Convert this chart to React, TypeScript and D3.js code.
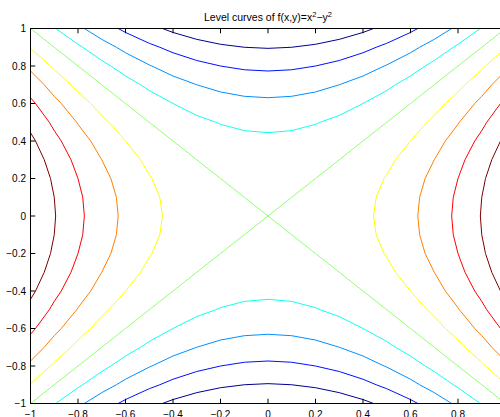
import React from "react";
import * as d3 from "d3";

// Contour levels of f(x,y) = x^2 - y^2 and the jet colours assigned to them
const levels = [-0.8, -0.6, -0.4, -0.2, 0, 0.2, 0.4, 0.6, 0.8];
const levelColors = [
  "#00008f",
  "#0010ff",
  "#0090ff",
  "#10fff0",
  "#90ff70",
  "#ffff00",
  "#ff8000",
  "#ff0000",
  "#800000",
];
// Sample grid: -1:0.1:1 on both axes
const gridX = d3.range(21).map((i) => (i - 10) / 10);
const gridY = d3.range(21).map((i) => (i - 10) / 10);
const f = (x: number, y: number) => x * x - y * y;

const xTicks = [-1, -0.8, -0.6, -0.4, -0.2, 0, 0.2, 0.4, 0.6, 0.8, 1];
const yTicks = [-1, -0.8, -0.6, -0.4, -0.2, 0, 0.2, 0.4, 0.6, 0.8, 1];

const W = 500;
const H = 417;
const left = 30.5;
const right = 505.5;
const top = 28.5;
const bottom = 403.5;

type Pt = [number, number];

// Marching squares: returns polylines (in data coordinates) for one level
function contourLines(t: number): Pt[][] {
  const segs: [Pt, Pt][] = [];
  const z = gridY.map((y) => gridX.map((x) => f(x, y)));
  const interp = (a: Pt, va: number, b: Pt, vb: number): Pt => {
    const s = (t - va) / (vb - va);
    return [a[0] + s * (b[0] - a[0]), a[1] + s * (b[1] - a[1])];
  };
  for (let j = 0; j < gridY.length - 1; j++) {
    for (let i = 0; i < gridX.length - 1; i++) {
      const c: Pt[] = [
        [gridX[i], gridY[j]],
        [gridX[i + 1], gridY[j]],
        [gridX[i + 1], gridY[j + 1]],
        [gridX[i], gridY[j + 1]],
      ];
      const v = [z[j][i], z[j][i + 1], z[j + 1][i + 1], z[j + 1][i]];
      const pts: Pt[] = [];
      for (let k = 0; k < 4; k++) {
        const k2 = (k + 1) % 4;
        const ina = v[k] >= t;
        const inb = v[k2] >= t;
        if (ina !== inb) pts.push(interp(c[k], v[k], c[k2], v[k2]));
      }
      if (pts.length === 2) {
        segs.push([pts[0], pts[1]]);
      } else if (pts.length === 4) {
        const center = (v[0] + v[1] + v[2] + v[3]) / 4;
        if ((center >= t) === (v[0] >= t)) {
          segs.push([pts[0], pts[3]]);
          segs.push([pts[1], pts[2]]);
        } else {
          segs.push([pts[0], pts[1]]);
          segs.push([pts[2], pts[3]]);
        }
      }
    }
  }
  const key = (p: Pt) => `${p[0].toFixed(9)},${p[1].toFixed(9)}`;
  const good = segs.filter((s) => key(s[0]) !== key(s[1]));
  const adj = new Map<string, number[]>();
  good.forEach((s, idx) => {
    for (const p of s) {
      const k = key(p);
      if (!adj.has(k)) adj.set(k, []);
      adj.get(k)!.push(idx);
    }
  });
  const used = new Array(good.length).fill(false);
  const lines: Pt[][] = [];
  const extend = (line: Pt[]) => {
    for (;;) {
      const end = line[line.length - 1];
      const cand = (adj.get(key(end)) || []).find((n) => !used[n]);
      if (cand === undefined) break;
      used[cand] = true;
      const s = good[cand];
      line.push(key(s[0]) === key(end) ? s[1] : s[0]);
    }
  };
  good.forEach((s, idx) => {
    if (used[idx]) return;
    used[idx] = true;
    const line: Pt[] = [s[0], s[1]];
    extend(line);
    line.reverse();
    extend(line);
    lines.push(line);
  });
  return lines;
}

const fmt = (v: number) => {
  const s = Math.abs(v) < 1e-9 ? "0" : String(+v.toFixed(1));
  return s.replace("-", "\u2212");
};

export default function App() {
  const x = d3.scaleLinear().domain([-1, 1]).range([left, right]);
  const y = d3.scaleLinear().domain([-1, 1]).range([bottom, top]);
  const line = d3
    .line<Pt>()
    .x((d) => x(d[0]))
    .y((d) => y(d[1]));
  const tickLen = 4.75;
  const font = "'Liberation Sans', Arial, Helvetica, sans-serif";

  return (
    <svg
      width={W}
      height={H}
      style={{ position: "absolute", left: 0, top: 0, background: "#fff" }}
      fontFamily={font}
    >
      <rect x={0} y={0} width={W} height={H} fill="#fff" />
      <g>
        {levels.map((lv, li) =>
          contourLines(lv).map((ln, k) => (
            <path
              key={`${li}-${k}`}
              d={line(ln) || ""}
              fill="none"
              stroke={levelColors[li]}
              strokeWidth={1}
              strokeLinejoin="round"
              strokeLinecap="round"
            />
          ))
        )}
      </g>
      {/* axes box */}
      <g stroke="#000" strokeWidth={1} fill="none">
        <line x1={left} x2={right} y1={top} y2={top} />
        <line x1={left} x2={right} y1={bottom} y2={bottom} />
        <line x1={left} x2={left} y1={top} y2={bottom} />
        <line x1={right} x2={right} y1={top} y2={bottom} />
        {xTicks.map((t) => (
          <g key={`xt${t}`}>
            <line x1={x(t)} x2={x(t)} y1={bottom} y2={bottom - tickLen} />
            <line x1={x(t)} x2={x(t)} y1={top} y2={top + tickLen} />
          </g>
        ))}
        {yTicks.map((t) => (
          <g key={`yt${t}`}>
            <line x1={left} x2={left + tickLen} y1={y(t)} y2={y(t)} />
            <line x1={right} x2={right - tickLen} y1={y(t)} y2={y(t)} />
          </g>
        ))}
      </g>
      <g fontSize={10} fill="#000">
        {xTicks.map((t) => (
          <text key={`xl${t}`} x={x(t)} y={bottom + 14} textAnchor="middle">
            {fmt(t)}
          </text>
        ))}
        {yTicks.map((t) => (
          <text
            key={`yl${t}`}
            x={left - 4.5}
            y={y(t)}
            textAnchor="end"
            dominantBaseline="central"
          >
            {fmt(t)}
          </text>
        ))}
      </g>
      <text x={(left + right) / 2} y={21} textAnchor="middle" fontSize={10.5} fill="#000">
        Level curves of f(x,y)=x
        <tspan fontSize={7.5} dy={-4}>2</tspan>
        <tspan dy={4}>{"\u2212"}y</tspan>
        <tspan fontSize={7.5} dy={-4}>2</tspan>
      </text>
    </svg>
  );
}
